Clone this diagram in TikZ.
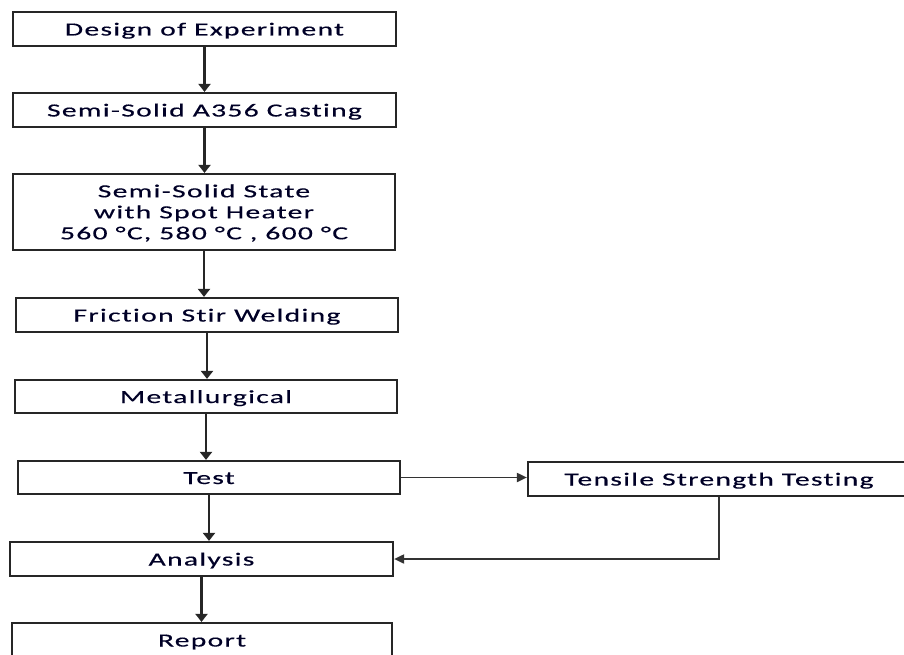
\documentclass[tikz,border=0pt]{standalone}
\usepackage{fontspec}
\setmainfont{Carlito}[FakeStretch=1.6, LetterSpace=7, Ligatures=NoCommon, FakeBold=0.4]
\usetikzlibrary{arrows.meta}
\begin{document}
\begin{tikzpicture}[x=1pt,y=-1pt,
  box/.style={draw=black!85, line width=2.2pt, minimum height=34pt, minimum width=382pt, inner sep=0pt, align=center, font=\fontsize{18.5}{21}\selectfont, text=black!85!blue},
  one/.style={text height=13pt, text depth=-2pt},
  flow/.style={draw=black!85, line width=2.2pt, -{Triangle[length=8pt,width=12pt]}},
  side/.style={draw=black!80, line width=1.9pt, -{Triangle[length=10pt,width=9pt]}}]
\useasboundingbox (0,0) rectangle (904,655);
\clip (0,0) rectangle (904,655);
\node[box, one, minimum width=383pt] (d) at (204.5,29) {Design of Experiment};
\node[box, one, minimum width=383pt] (c) at (204.5,110) {Semi-Solid A356 Casting};
\node[box, minimum height=76pt] (s) at (204,212) {\rule{0pt}{15pt}Semi-Solid State\\with Spot Heater\\560 °C, 580 °C , 600 °C};
\node[box, one] (f) at (207,315) {Friction Stir Welding};
\node[box, one, minimum height=33pt] (m) at (206,396.5) {Metallurgical};
\node[box, one, minimum height=33pt] (t) at (209,477.5) {Test};
\node[box, one, minimum width=383pt] (a) at (201.5,559) {Analysis};
\node[box, one, minimum width=380pt] (r) at (202,640) {Report};
\node[box, one] (ts) at (719,479) {Tensile Strength Testing};
\draw[flow] (d.south) -- (d.south |- c.north);
\draw[flow] (c.south) -- (c.south |- s.north);
\draw[flow] (s.south) -- (s.south |- f.north);
\draw[flow] (f.south) -- (f.south |- m.north);
\draw[flow] (m.south) -- (m.south |- t.north);
\draw[flow] (t.south) -- (t.south |- a.north);
\draw[flow] (a.south) -- (a.south |- r.north);
\draw[side] (t.east) -- (t.east -| ts.west);
\draw[side] (ts.south) |- (a.east);
\end{tikzpicture}
\end{document}
